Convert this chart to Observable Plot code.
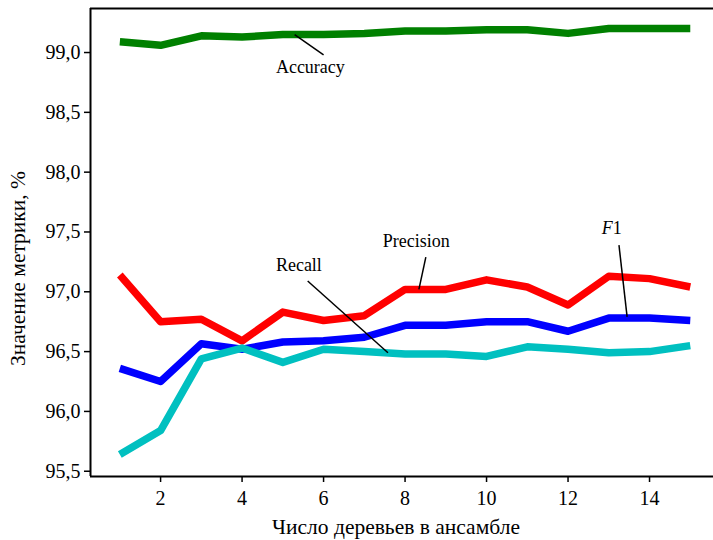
<!DOCTYPE html>
<html>
<head>
<meta charset="utf-8">
<script src="https://cdn.jsdelivr.net/npm/d3@7"></script>
<script src="https://cdn.jsdelivr.net/npm/@observablehq/plot@0.6"></script>
<style>
  html, body { margin: 0; padding: 0; background: #fff; }
  #chart svg { display: block; }
  #chart svg, #chart svg text { font-family: 'Liberation Serif', 'Times New Roman', serif !important; }
</style>
</head>
<body>
<div id="chart"></div>
<script>
const trees = [1, 2, 3, 4, 5, 6, 7, 8, 9, 10, 11, 12, 13, 14, 15];
const accuracy  = [99.09, 99.06, 99.14, 99.13, 99.15, 99.15, 99.16, 99.18, 99.18, 99.19, 99.19, 99.16, 99.20, 99.20, 99.20];
const precision = [97.14, 96.75, 96.77, 96.59, 96.83, 96.76, 96.80, 97.02, 97.02, 97.10, 97.04, 96.89, 97.13, 97.11, 97.04];
const f1        = [96.36, 96.25, 96.565, 96.52, 96.58, 96.59, 96.62, 96.72, 96.72, 96.75, 96.75, 96.67, 96.78, 96.78, 96.76];
const recall    = [95.64, 95.84, 96.44, 96.53, 96.41, 96.52, 96.50, 96.48, 96.48, 96.46, 96.54, 96.52, 96.49, 96.50, 96.55];

const seriesNames  = ["Accuracy", "Precision", "F1", "Recall"];
const seriesValues = [accuracy, precision, f1, recall];
const seriesColors = ["#008000", "#ff0000", "#0000ff", "#00c0c0"];

const xTicks = [2, 4, 6, 8, 10, 12, 14];
const yTicks = [95.5, 96.0, 96.5, 97.0, 97.5, 98.0, 98.5, 99.0];
const xDomain = [0.28, 15.57];
const yDomain = [95.456, 99.368];

const xTitle = "Число деревьев в ансамбле";
const yTitle = "Значение метрики, %";

// annotation labels (data coordinates) and leader lines
const labelText = ["Accuracy", "Recall", "Precision", "F1"];
const labelX    = [4.83, 4.83, 7.45, 12.83];
const labelY    = [98.875, 97.22, 97.42, 97.53];
const leaderX1  = [5.29, 5.61, 8.51, 13.25];
const leaderY1  = [99.15, 97.09, 97.29, 97.39];
const leaderX2  = [6.0, 7.58, 8.34, 13.45];
const leaderY2  = [98.98, 96.49, 97.02, 96.79];

const rows = seriesNames.flatMap((name, i) =>
  trees.map((t, j) => ({series: name, x: t, y: seriesValues[i][j]})));
const labels = labelText.map((t, i) => ({text: t, x: labelX[i], y: labelY[i]}));
const leaders = labelText.map((t, i) => ({x1: leaderX1[i], y1: leaderY1[i], x2: leaderX2[i], y2: leaderY2[i]}));

const fmt = d => d.toFixed(1).replace(".", ",");
const font = "'Liberation Serif', 'Times New Roman', serif";

const chart = Plot.plot({
  width: 713,
  height: 540,
  marginLeft: 90,
  marginRight: 0,
  marginTop: 8,
  marginBottom: 64,
  style: {fontFamily: font, fontSize: "20px", color: "#000", background: "#fff"},
  x: {domain: xDomain},
  y: {domain: yDomain},
  color: {domain: seriesNames, range: seriesColors},
  marks: [
    Plot.axisX({ticks: xTicks, tickSize: 6, tickPadding: 8, tickFormat: d => String(d), label: null, fontSize: 20, fontFamily: font, strokeWidth: 1.5}),
    Plot.axisY({ticks: yTicks, tickSize: 6, tickPadding: 4, tickFormat: fmt, label: null, fontSize: 20, fontFamily: font, strokeWidth: 1.5}),
    Plot.ruleY([yDomain[0]], {stroke: "#000", strokeWidth: 2}),
    Plot.ruleY([yDomain[1]], {stroke: "#000", strokeWidth: 2}),
    Plot.ruleX([xDomain[0]], {stroke: "#000", strokeWidth: 2}),
    Plot.line(rows, {x: "x", y: "y", z: "series", stroke: "series", strokeWidth: 7.5, strokeLinejoin: "round", strokeLinecap: "butt"}),
    Plot.link(leaders, {x1: "x1", y1: "y1", x2: "x2", y2: "y2", stroke: "#000", strokeWidth: 1.5}),
    Plot.text(labels.filter(d => d.text !== "F1"), {x: "x", y: "y", text: "text", textAnchor: "start", fontSize: 18, fontFamily: font, fill: "#000"}),
    Plot.text(labels.filter(d => d.text === "F1"), {x: "x", y: "y", text: d => "F", textAnchor: "start", fontSize: 18, fontFamily: font, fontStyle: "italic", fill: "#000"}),
    Plot.text(labels.filter(d => d.text === "F1"), {x: "x", y: "y", text: d => "1", textAnchor: "start", dx: 11, fontSize: 18, fontFamily: font, fill: "#000"}),
    Plot.text([xTitle], {frameAnchor: "bottom", textAnchor: "middle", lineAnchor: "middle", dy: 51, dx: -6, fontSize: 21.5, fontFamily: font, fill: "#000"}),
    Plot.text([yTitle], {frameAnchor: "left", textAnchor: "middle", lineAnchor: "middle", rotate: -90, dx: -72, dy: 26, fontSize: 21.5, fontFamily: font, fill: "#000"})
  ]
});
document.getElementById("chart").appendChild(chart);
</script>
</body>
</html>
